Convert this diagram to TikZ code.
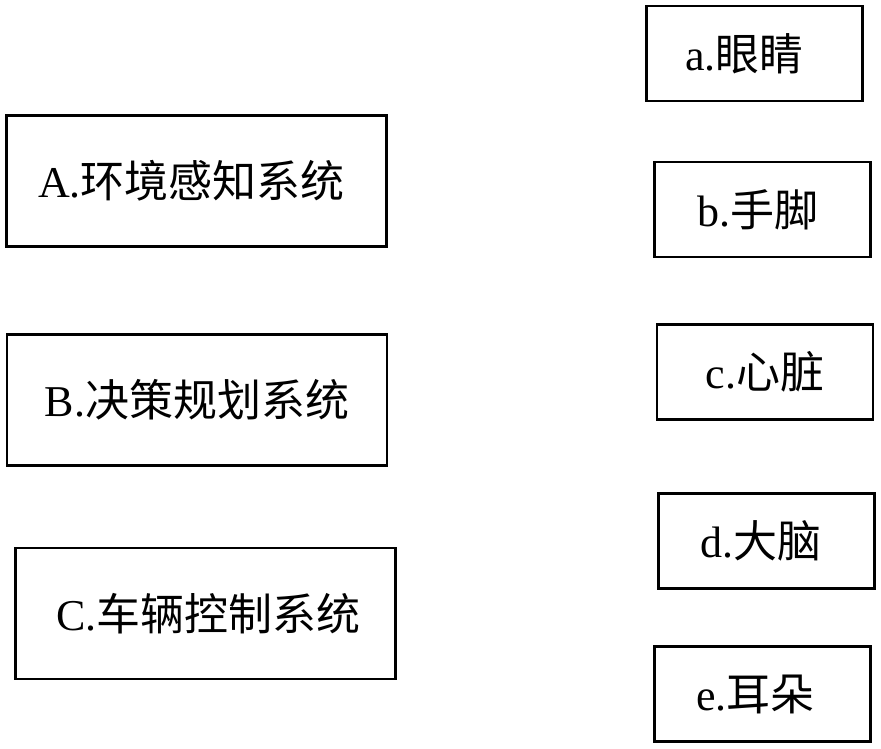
\documentclass[tikz,border=0pt]{standalone}
\usepackage{fontspec}
\setmainfont{Liberation Serif}
\newfontfamily\cjk{Noto Sans CJK SC}
\newcommand{\shiftL}[1]{\hspace*{#1}}
\begin{document}
\begin{tikzpicture}[x=1pt,y=-1pt,
  box/.style={draw, line width=2.6pt, inner sep=0pt, align=center,
    font=\fontsize{44}{50}\selectfont},
  bigbox/.style={box, minimum width=380pt, minimum height=131pt},
  smallbox/.style={box, minimum width=216pt, minimum height=95pt}]
\useasboundingbox (0,0) rectangle (881,748);
\fill[white] (0,0) rectangle (881,748);
\node[bigbox] (A) at (196.5,181) {A.{\cjk 环境感知系统}\shiftL{10pt}};
\node[bigbox] (B) at (197,400) {B.{\cjk 决策规划系统}};
\node[bigbox] (C) at (205.5,613.5) {\shiftL{6pt}C.{\cjk 车辆控制系统}};
\node[smallbox] (a) at (754.5,53.5) {a.{\cjk 眼睛}\shiftL{20pt}};
\node[smallbox] (b) at (762.5,209.5) {b.{\cjk 手脚}\shiftL{10pt}};
\node[smallbox] (c) at (765,372) {c.{\cjk 心脏}};
\node[smallbox] (d) at (766.5,541) {d.{\cjk 大脑}\shiftL{12pt}};
\node[smallbox] (e) at (762.5,694) {e.{\cjk 耳朵}\shiftL{14pt}};
\end{tikzpicture}
\end{document}
